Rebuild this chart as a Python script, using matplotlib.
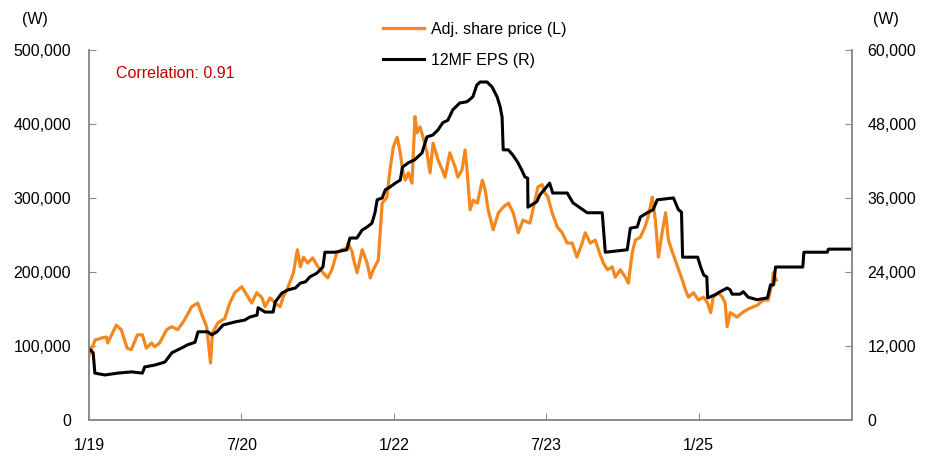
import pandas as pd
import matplotlib
matplotlib.use('Agg')
import matplotlib.pyplot as plt
from matplotlib.ticker import FuncFormatter

plt.rcParams['font.family'] = ['Liberation Sans', 'DejaVu Sans']

# adjusted share price (left axis, won)
price_dates = [
    '2019-01-02', '2019-01-23', '2019-02-17', '2019-03-05', '2019-03-09', '2019-04-09',
    '2019-04-27', '2019-05-18', '2019-06-02', '2019-06-24', '2019-07-12', '2019-07-26',
    '2019-08-14', '2019-08-25', '2019-09-12', '2019-10-07', '2019-10-25', '2019-11-16',
    '2019-12-10', '2020-01-05', '2020-01-27', '2020-02-14', '2020-02-28', '2020-03-13',
    '2020-03-20', '2020-04-08', '2020-05-03', '2020-05-21', '2020-06-08', '2020-07-03',
    '2020-07-21', '2020-08-08', '2020-08-26', '2020-09-14', '2020-09-25', '2020-10-13',
    '2020-10-31', '2020-11-18', '2020-11-29', '2020-12-17', '2021-01-05', '2021-01-19',
    '2021-01-30', '2021-02-10', '2021-02-25', '2021-03-15', '2021-04-03', '2021-04-21',
    '2021-05-08', '2021-05-23', '2021-06-10', '2021-06-28', '2021-07-16', '2021-07-20',
    '2021-08-04', '2021-08-07', '2021-08-22', '2021-09-09', '2021-09-27', '2021-10-08',
    '2021-10-19', '2021-11-06', '2021-11-20', '2021-12-07', '2021-12-18', '2021-12-30',
    '2022-01-13', '2022-01-24', '2022-02-01', '2022-02-11', '2022-02-22', '2022-03-07',
    '2022-03-18', '2022-03-25', '2022-04-05', '2022-04-16', '2022-04-30', '2022-05-11',
    '2022-05-22', '2022-06-09', '2022-06-24', '2022-07-04', '2022-07-21', '2022-08-09',
    '2022-08-19', '2022-09-03', '2022-09-14', '2022-09-21', '2022-10-02', '2022-10-13',
    '2022-10-28', '2022-11-15', '2022-11-25', '2022-12-06', '2022-12-24', '2023-01-12',
    '2023-01-30', '2023-02-17', '2023-03-06', '2023-03-24', '2023-04-10', '2023-05-05',
    '2023-05-16', '2023-06-03', '2023-06-18', '2023-06-28', '2023-07-09', '2023-07-24',
    '2023-08-11', '2023-08-29', '2023-09-16', '2023-10-04', '2023-10-21', '2023-11-09',
    '2023-11-20', '2023-12-08', '2023-12-26', '2024-01-13', '2024-01-24', '2024-02-08',
    '2024-02-25', '2024-03-07', '2024-03-25', '2024-04-12', '2024-04-23', '2024-05-07',
    '2024-05-18', '2024-06-05', '2024-06-22', '2024-07-03', '2024-07-18', '2024-07-29',
    '2024-08-09', '2024-08-24', '2024-09-04', '2024-09-14', '2024-09-29', '2024-10-17',
    '2024-11-03', '2024-11-14', '2024-11-25', '2024-12-13', '2024-12-31', '2025-01-18',
    '2025-02-02', '2025-02-13', '2025-02-22', '2025-03-12', '2025-03-27', '2025-04-06',
    '2025-04-13', '2025-04-24', '2025-05-19', '2025-06-10', '2025-07-04', '2025-07-30',
    '2025-08-21', '2025-09-08', '2025-09-22', '2025-09-26', '2025-10-07',
]
price = [
    88000, 108000, 111000, 112000, 104000, 128000,
    122000, 97000, 95000, 115000, 115000, 97000,
    104000, 99000, 104000, 122000, 126000, 122000,
    135000, 153000, 158000, 139000, 126000, 77000,
    118000, 131000, 137000, 158000, 172000, 180000,
    169000, 158000, 172000, 165000, 153000, 165000,
    158000, 153000, 166000, 180000, 199000, 230000,
    207000, 220000, 212000, 219000, 207000, 199000,
    192000, 203000, 226000, 230000, 232000, 239000,
    227000, 220000, 199000, 230000, 212000, 192000,
    203000, 216000, 293000, 301000, 338000, 369000,
    382000, 361000, 338000, 324000, 334000, 320000,
    410000, 388000, 396000, 382000, 361000, 334000,
    374000, 351000, 338000, 328000, 361000, 342000,
    328000, 338000, 365000, 338000, 284000, 297000,
    293000, 324000, 311000, 284000, 257000, 280000,
    288000, 293000, 280000, 253000, 270000, 266000,
    284000, 315000, 318000, 307000, 301000, 280000,
    261000, 253000, 239000, 239000, 220000, 239000,
    253000, 239000, 243000, 223000, 212000, 203000,
    207000, 193000, 203000, 193000, 185000, 226000,
    243000, 247000, 261000, 274000, 301000, 270000,
    220000, 257000, 280000, 243000, 226000, 207000,
    189000, 176000, 166000, 172000, 162000, 166000,
    158000, 145000, 166000, 172000, 166000, 158000,
    126000, 145000, 139000, 146000, 151000, 155000,
    162000, 162000, 185000, 199000, 189000,
]

# 12-month forward EPS (right axis, won)
eps_dates = [
    '2019-01-02', '2019-01-16', '2019-01-22', '2019-02-27', '2019-04-14', '2019-06-03',
    '2019-07-12', '2019-07-20', '2019-08-25', '2019-10-01', '2019-10-26', '2019-12-01',
    '2019-12-22', '2020-01-17', '2020-01-28', '2020-03-03', '2020-03-17', '2020-04-05',
    '2020-04-27', '2020-06-09', '2020-07-14', '2020-08-02', '2020-08-27', '2020-08-31',
    '2020-09-25', '2020-10-24', '2020-10-31', '2020-11-25', '2020-12-17', '2021-01-12',
    '2021-01-30', '2021-02-17', '2021-03-05', '2021-03-30', '2021-04-21', '2021-04-28',
    '2021-06-03', '2021-07-16', '2021-07-27', '2021-08-21', '2021-09-09', '2021-09-27',
    '2021-10-14', '2021-10-25', '2021-11-02', '2021-11-20', '2021-12-01', '2021-12-19',
    '2022-01-06', '2022-01-24', '2022-02-01', '2022-02-22', '2022-03-17', '2022-04-12',
    '2022-04-30', '2022-05-21', '2022-06-08', '2022-06-26', '2022-07-14', '2022-08-01',
    '2022-08-26', '2022-09-21', '2022-10-12', '2022-10-26', '2022-11-07', '2022-12-02',
    '2022-12-20', '2023-01-07', '2023-01-18', '2023-01-25', '2023-01-29', '2023-02-16',
    '2023-03-04', '2023-03-22', '2023-04-06', '2023-04-17', '2023-04-27', '2023-04-28',
    '2023-05-30', '2023-06-10', '2023-07-15', '2023-07-26', '2023-09-16', '2023-10-07',
    '2023-11-27', '2024-01-20', '2024-01-31', '2024-04-19', '2024-04-30', '2024-05-25',
    '2024-06-05', '2024-06-30', '2024-07-21', '2024-08-05', '2024-10-02', '2024-10-20',
    '2024-10-31', '2024-11-04', '2024-12-28', '2025-01-08', '2025-01-19', '2025-01-30',
    '2025-02-02', '2025-03-01', '2025-03-19', '2025-04-13', '2025-04-24', '2025-05-01',
    '2025-05-30', '2025-06-10', '2025-06-28', '2025-07-30', '2025-09-05', '2025-09-16',
    '2025-09-27', '2025-10-04', '2026-01-10', '2026-01-14', '2026-04-08', '2026-04-12',
    '2026-07-06',
]
eps = [
    11500, 10900, 7600, 7300, 7600, 7800,
    7600, 8600, 8900, 9400, 10900, 11700,
    12200, 12600, 14300, 14300, 13800, 14300,
    15400, 15900, 16200, 16700, 17000, 18200,
    17500, 17500, 19100, 20600, 21100, 21400,
    22200, 22400, 23200, 23800, 24800, 27200,
    27200, 27600, 29500, 29500, 30800, 31300,
    31900, 33600, 35700, 36000, 37300, 37800,
    38400, 38900, 41000, 41700, 42200, 43300,
    45900, 46200, 47000, 48200, 48600, 50300,
    51400, 51600, 52400, 54300, 54800, 54800,
    54000, 52400, 50800, 49100, 43800, 43800,
    43000, 41800, 40500, 39400, 39200, 34500,
    35400, 36500, 38400, 36800, 36800, 35200,
    33600, 33600, 27200, 27600, 31100, 31300,
    32900, 33600, 34100, 35700, 36000, 34100,
    33700, 26400, 26400, 24800, 23500, 23200,
    19800, 20300, 20800, 21400, 21100, 20400,
    20400, 20800, 19900, 19500, 19800, 21900,
    21900, 24800, 24800, 27200, 27200, 27700,
    27700,
]

tick_dates = ['2019-01-01', '2020-07-01', '2022-01-01', '2023-07-01', '2025-01-01']
tick_labels = ['1/19', '7/20', '1/22', '7/23', '1/25']

orange = '#F5871F'
gray = '#8C8C8C'
fs = 11.5

fig = plt.figure(figsize=(9.33, 4.58), dpi=100)
ax1 = fig.add_axes([0.0954, 0.083, 0.8178, 0.808])
ax2 = ax1.twinx()

l1, = ax1.plot(pd.to_datetime(price_dates), price, color=orange, lw=2.3,
               label='Adj. share price (L)')
l2, = ax2.plot(pd.to_datetime(eps_dates), eps, color='black', lw=2.2,
               label='12MF EPS (R)')

ax1.set_xlim(pd.Timestamp('2019-01-01'), pd.Timestamp('2026-07-06'))
ax1.set_ylim(0, 500000)
ax2.set_ylim(0, 60000)
ax1.set_yticks(range(0, 500001, 100000))
ax2.set_yticks(range(0, 60001, 12000))
fmt = FuncFormatter(lambda v, p: f'{v:,.0f}')
ax1.yaxis.set_major_formatter(fmt)
ax2.yaxis.set_major_formatter(fmt)
ax1.set_xticks(pd.to_datetime(tick_dates))
ax1.set_xticklabels(tick_labels)

for ax in (ax1, ax2):
    ax.spines['top'].set_visible(False)
    for s in ('left', 'right', 'bottom'):
        ax.spines[s].set_color(gray)
        ax.spines[s].set_linewidth(1.2)
ax1.tick_params(axis='y', direction='in', length=5, color=gray, labelsize=fs, pad=13)
ax2.tick_params(axis='y', direction='in', length=5, color=gray, labelsize=fs, pad=11)
ax1.tick_params(axis='x', direction='in', length=5, color=gray, labelsize=fs, pad=13)

fig.text(0.0375, 0.958, '(W)', fontsize=fs, ha='center', va='center')
fig.text(0.95, 0.958, '(W)', fontsize=fs, ha='center', va='center')
ax1.text(0.035, 0.935, 'Correlation: 0.91', transform=ax1.transAxes,
         color='#C00000', fontsize=fs, ha='left', va='center')

fig.legend(handles=[l1, l2], loc='upper left', bbox_to_anchor=(0.41, 0.952),
           frameon=False, fontsize=fs, handlelength=2.6, handletextpad=0.45,
           labelspacing=1.0, borderpad=0, borderaxespad=0)

fig.savefig('out.png', dpi=100)
